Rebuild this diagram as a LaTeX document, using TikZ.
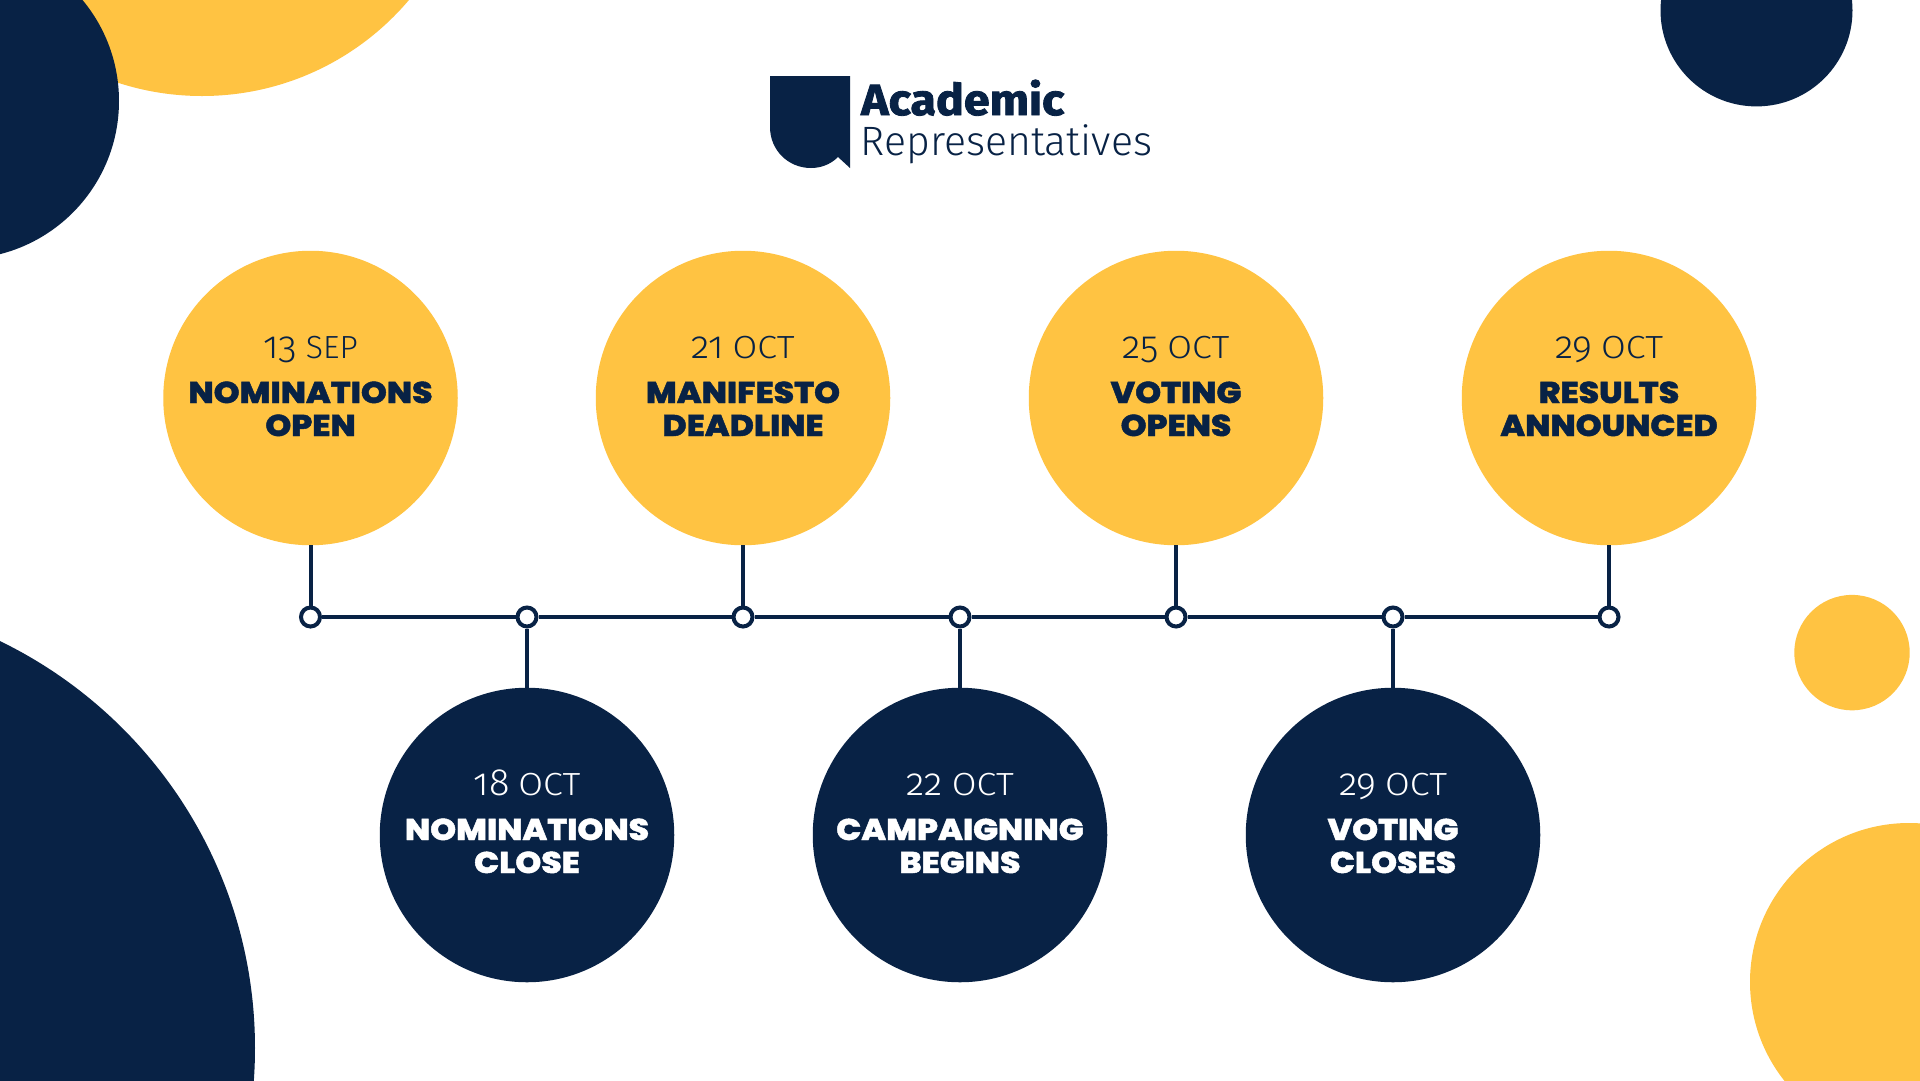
\documentclass[tikz,border=0pt]{standalone}
\usepackage{fontspec}
\setmainfont{Poppins}
\newfontfamily\blk{Poppins}[UprightFont=* ExtraBold,FakeBold=1.5,FakeStretch=1.10]
\newfontfamily\lite{Fira Sans Light}[Numbers=OldStyle]
\newfontfamily\litew{Fira Sans Light}[FakeStretch=1.12]
\newfontfamily\logob{Fira Sans}[UprightFont=* Bold,FakeBold=2,FakeStretch=1.07]
\definecolor{navy}{HTML}{082245}
\definecolor{gold}{HTML}{FFC342}
\tikzset{
  x=1pt,y=-1pt,
  event/.style={circle,minimum size=294.5pt,inner sep=0pt,draw=none},
  gold event/.style={event,fill=gold},
  navy event/.style={event,fill=navy},
  datetxt/.style={anchor=base,inner sep=0pt,font=\lite\fontsize{32}{32}\selectfont},
  titletxt/.style={anchor=base,inner sep=0pt,font=\blk\fontsize{30}{30}\selectfont},
  conn/.style={draw=navy,line width=4pt},
  dotnode/.style={circle,minimum size=19pt,inner sep=0pt,draw=navy,line width=4pt,fill=white},
  deco gold/.style={fill=gold},
  deco navy/.style={fill=navy}
}
\newcommand{\dig}[1]{{\fontsize{38}{38}\selectfont #1}}
\newcommand{\octw}{{\litew OCT}}
\newcommand{\eventat}[8]{% name, x, y, style, colour, date, l1, l2
  \node[#4] (#1) at (#2,#3) {};
  \node[datetxt,text=#5] (#1d) at (#2,#3-40) {#6};
  \node[titletxt,text=#5] (#1a) at (#2,#3+5) {#7};
  \node[titletxt,text=#5] (#1b) at (#2,#3+38) {#8};
}
\begin{document}
\begin{tikzpicture}
\useasboundingbox (0,0) rectangle (1920,1080);
\fill[white] (0,0) rectangle (1920,1080);
\begin{scope}
\clip (0,0) rectangle (1920,1080);
\fill[deco gold] (202,-175) circle[radius=271];
\fill[deco navy] (-39,101) circle[radius=158];
\fill[deco navy] (1756.5,10.4) circle[radius=96];
\fill[deco gold] (1852,652.6) circle[radius=57.7];
\fill[deco gold] (1909,982) circle[radius=159];
\fill[deco navy] (-197,1048) circle[radius=452];
\end{scope}
% logo
\fill[navy] (770,76) -- (850,76) -- (850,168) -- (838,157) .. controls (830,165) and (820,168) .. (811,168) .. controls (788,168) and (770,150) .. (770,127) -- cycle;
\node[anchor=base west,inner sep=0pt,text=navy,font=\logob\fontsize{43.5}{43.5}\selectfont] (logoa) at (861,115) {Academic};
\node[anchor=base west,inner sep=0pt,text=navy,font=\lite\fontsize{41}{41}\selectfont] (logob) at (860.5,155.5) {Representatives};
% events
\eventat{e1}{310.5}{398}{gold event}{navy}{\dig{13} SEP}{NOMINATIONS}{OPEN}
\eventat{e2}{527}{835}{navy event}{white}{\dig{18} \octw}{NOMINATIONS}{CLOSE}
\eventat{e3}{743}{398}{gold event}{navy}{\dig{21} \octw}{MANIFESTO}{DEADLINE}
\eventat{e4}{960}{835}{navy event}{white}{\dig{22} \octw}{CAMPAIGNING}{BEGINS}
\eventat{e5}{1176}{398}{gold event}{navy}{\dig{25} \octw}{VOTING}{OPENS}
\eventat{e6}{1393}{835}{navy event}{white}{\dig{29} \octw}{VOTING}{CLOSES}
\eventat{e7}{1609}{398}{gold event}{navy}{\dig{29} \octw}{RESULTS}{ANNOUNCED}
% timeline
\foreach \n/\x in {1/310.5,2/527,3/743,4/960,5/1176,6/1393,7/1609}{
  \node[dotnode] (d\n) at (\x,617) {};
}
\foreach \a/\b in {1/2,2/3,3/4,4/5,5/6,6/7}{ \draw[conn] (d\a) -- (d\b); }
\foreach \n in {1,...,7}{ \draw[conn] (e\n) -- (d\n); }
\end{tikzpicture}
\end{document}
